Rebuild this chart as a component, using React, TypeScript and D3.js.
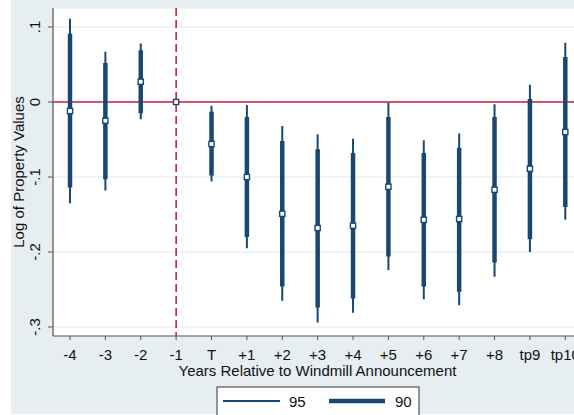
import React from "react";
import * as d3 from "d3";

// Event-study coefficients with 90% and 95% confidence intervals
const categories = ["-4", "-3", "-2", "-1", "T", "+1", "+2", "+3", "+4", "+5", "+6", "+7", "+8", "tp9", "tp10"];
const estimate = [-0.012, -0.025, 0.027, 0, -0.056, -0.1, -0.149, -0.168, -0.165, -0.113, -0.157, -0.156, -0.117, -0.089, -0.04];
const lo90 = [-0.114, -0.103, -0.015, 0, -0.098, -0.18, -0.246, -0.274, -0.262, -0.206, -0.246, -0.253, -0.214, -0.183, -0.14];
const hi90 = [0.091, 0.052, 0.069, 0, -0.013, -0.02, -0.052, -0.063, -0.068, -0.02, -0.068, -0.061, -0.02, 0.004, 0.06];
const lo95 = [-0.135, -0.118, -0.023, 0, -0.106, -0.195, -0.265, -0.294, -0.281, -0.224, -0.263, -0.271, -0.233, -0.2, -0.157];
const hi95 = [0.111, 0.067, 0.078, 0, -0.005, -0.004, -0.032, -0.043, -0.049, -0.001, -0.051, -0.042, -0.003, 0.023, 0.079];
const yTicks = [-0.3, -0.2, -0.1, 0, 0.1];
const yTickLabels = ["-.3", "-.2", "-.1", "0", ".1"];
const refCategory = "-1";
const legendLabels = ["95", "90"];

const W = 574;
const H = 415;
const NAVY = "#1a476f";
const RED = "#d11f40";
const GRID = "#eaf2f3";
const BG = "#e6eef1";
const FONT = "Liberation Sans, Arial, Helvetica, sans-serif";

export default function App() {
  const plot = { left: 53, top: 8, right: 582, bottom: 336 };
  const x = d3.scalePoint<string>().domain(categories).range([70, 565.3]);
  const y = d3.scaleLinear().domain([-0.3, 0.1]).range([327, 27]);
  const rows = categories.map((c, i) => ({
    c,
    est: estimate[i],
    l90: lo90[i],
    h90: hi90[i],
    l95: lo95[i],
    h95: hi95[i],
  }));
  const xMid = (plot.left + plot.right) / 2;
  const yMid = (plot.top + plot.bottom) / 2;
  const legend = { x: 217, y: 387, w: 202, h: 40 };

  return (
    <svg
      width={W}
      height={H}
      style={{ position: "absolute", left: 0, top: 0, display: "block" }}
      fontFamily={FONT}
    >
      <rect x={0} y={0} width={W} height={H} fill="#ffffff" />
      <rect x={11} y={0} width={W} height={414} fill={BG} />
      <rect x={plot.left} y={plot.top} width={plot.right - plot.left} height={plot.bottom - plot.top} fill="#ffffff" />
      <line x1={plot.left} x2={plot.right} y1={plot.top} y2={plot.top} stroke={GRID} strokeWidth={1.5} />

      {/* horizontal gridlines */}
      {yTicks.map((t) => (
        <line key={t} x1={plot.left} x2={plot.right} y1={y(t)} y2={y(t)} stroke={GRID} strokeWidth={1.5} />
      ))}

      {/* reference lines */}
      <line x1={plot.left} x2={plot.right} y1={y(0)} y2={y(0)} stroke={RED} strokeWidth={1.6} />
      <line
        x1={x(refCategory)}
        x2={x(refCategory)}
        y1={plot.top}
        y2={plot.bottom}
        stroke={RED}
        strokeWidth={1.6}
        strokeDasharray="8,4"
      />

      {/* confidence intervals and point estimates */}
      {rows.map((r) => (
        <g key={r.c}>
          <line x1={x(r.c)} x2={x(r.c)} y1={y(r.l95)} y2={y(r.h95)} stroke={NAVY} strokeWidth={2} />
          <line x1={x(r.c)} x2={x(r.c)} y1={y(r.l90)} y2={y(r.h90)} stroke={NAVY} strokeWidth={4.5} />
          <rect
            x={(x(r.c) as number) - 2.6}
            y={y(r.est) - 2.6}
            width={5.2}
            height={5.2}
            fill="#ffffff"
            stroke={NAVY}
            strokeWidth={1.4}
          />
        </g>
      ))}

      {/* y axis */}
      <line x1={plot.left} x2={plot.left} y1={plot.top} y2={plot.bottom} stroke="#555" strokeWidth={1.2} />
      {yTicks.map((t, i) => (
        <g key={t}>
          <line x1={plot.left - 5} x2={plot.left} y1={y(t)} y2={y(t)} stroke="#555" strokeWidth={1} />
          <text
            transform={`translate(40,${y(t)}) rotate(-90)`}
            textAnchor="middle"
            fontSize={15}
            fill="#111"
          >
            {yTickLabels[i]}
          </text>
        </g>
      ))}
      <text transform={`translate(24,${yMid}) rotate(-90)`} textAnchor="middle" fontSize={15} fill="#111">
        Log of Property Values
      </text>

      {/* x axis */}
      <line x1={plot.left} x2={plot.right} y1={plot.bottom} y2={plot.bottom} stroke="#555" strokeWidth={1.2} />
      {categories.map((c) => (
        <g key={c}>
          <line x1={x(c)} x2={x(c)} y1={plot.bottom} y2={plot.bottom + 4} stroke="#555" strokeWidth={1} />
          <text x={x(c)} y={360} textAnchor="middle" fontSize={15} fill="#111">
            {c}
          </text>
        </g>
      ))}
      <text x={xMid} y={375.5} textAnchor="middle" fontSize={15} fill="#111">
        Years Relative to Windmill Announcement
      </text>

      {/* legend */}
      <rect x={legend.x} y={legend.y} width={legend.w} height={legend.h} fill="#ffffff" stroke="#333" strokeWidth={1} />
      <line x1={223} x2={280} y1={401} y2={401} stroke={NAVY} strokeWidth={2} />
      <text x={289} y={407} fontSize={15} fill="#111">
        {legendLabels[0]}
      </text>
      <line x1={329} x2={385} y1={401} y2={401} stroke={NAVY} strokeWidth={4.5} />
      <text x={395} y={407} fontSize={15} fill="#111">
        {legendLabels[1]}
      </text>
    </svg>
  );
}
